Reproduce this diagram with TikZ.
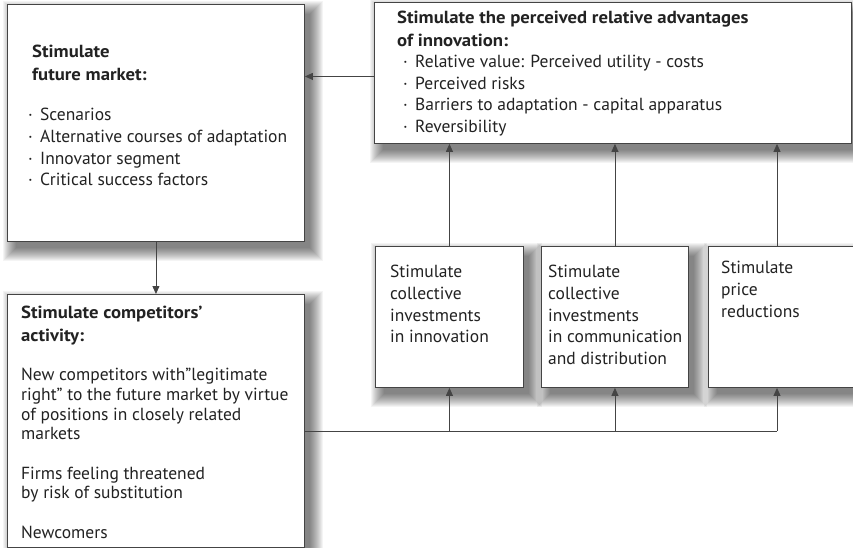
\documentclass[tikz,border=0pt]{standalone}
\usepackage{fontspec}
\setmainfont{PT Sans}[BoldFeatures={FakeStretch=1.07}]
\usetikzlibrary{arrows.meta,calc}
\definecolor{ink}{HTML}{222222}
\definecolor{edge}{HTML}{444444}
\newcommand{\bul}{\makebox[12pt][l]{·}}
\newcommand{\boxshadow}[1]{%
  \foreach \r in {-2,...,11}{%
    \fill[black, opacity=0.045] ([shift={(7-\r,8-\r)}]#1.north west) rectangle ([shift={(7+\r,8+\r)}]#1.south east);}}
\pgfdeclarelayer{back}
\pgfdeclarelayer{shade}
\pgfsetlayers{back,shade,main}
\begin{document}
\begin{tikzpicture}[x=1pt,y=-1pt,
  box/.style={draw=edge, line width=0.9pt, fill=white, anchor=north west, inner sep=0pt},
  txt/.style={anchor=north west, inner sep=0pt, align=left, text=ink, font=\fontsize{17.5}{21.7}\selectfont},
  ttl/.style={txt, font=\fontsize{17.5}{22.5}\selectfont\bfseries},
  arr/.style={draw=edge, line width=0.9pt, -{Triangle[length=8pt,width=7pt]}},
  ln/.style={draw=edge, line width=0.9pt}]
\clip (0,0) rectangle (853,548);
% boxes
\node[box, minimum width=297pt, minimum height=237pt] (A) at (7,4) {};
\node[box, minimum width=477pt, minimum height=141pt] (B) at (374,2) {};
\node[box, minimum width=297pt, minimum height=253pt] (C) at (7,294) {};
\node[box, minimum width=148pt, minimum height=141pt] (D) at (375,246) {};
\node[box, minimum width=147pt, minimum height=141pt] (E) at (541,246) {};
\node[box, minimum width=170pt, minimum height=141pt] (F) at (708,246) {};
\begin{pgfonlayer}{back}
\fill[white] (0,0) rectangle (853,548);
\end{pgfonlayer}
\begin{pgfonlayer}{shade}
\boxshadow{A}\boxshadow{B}\boxshadow{C}\boxshadow{D}\boxshadow{E}\boxshadow{F}
\end{pgfonlayer}
% texts
\node[ttl] (At) at (32,45) {Stimulate\\future market:};
\node[txt] (Al) at (28,108) {\bul Scenarios\\\bul Alternative courses of adaptation\\\bul Innovator segment\\\bul Critical success factors};
\node[ttl] (Bt) at (397,11) {Stimulate the perceived relative advantages\\of innovation:};
\node[txt] (Bl) at (403,55) {\bul Relative value: Perceived utility - costs\\\bul Perceived risks\\\bul Barriers to adaptation - capital apparatus\\\bul Reversibility};
\node[ttl] (Ct) at (21,306) {Stimulate competitors’\\activity:};
\node[txt, font=\fontsize{17.5}{19.7}\selectfont] (Cl) at (21,368) {New competitors with”legitimate\\right” to the future market by virtue\\of positions in closely related\\markets\\[19.7pt]Firms feeling threatened\\by risk of substitution\\[19.7pt]Newcomers};
\node[txt] (Dt) at (390,265) {Stimulate\\collective\\investments\\in innovation};
\node[txt] (Et) at (548,265) {Stimulate\\collective\\investments\\in communication\\and distribution};
\node[txt] (Ft) at (721,261) {Stimulate\\price\\reductions};
% connectors
\coordinate (bw) at ([yshift=-3.5pt]B.west);
\coordinate (fx) at ($(F.south west)+(69,0)$);
\coordinate (bus) at (fx |- 0,431);
\draw[arr] (bw) -- (A.east |- bw);
\draw[arr] (A.south) -- (C.north);
\draw[ln] (C.east |- bus) -- (bus);
\draw[arr] (D.south |- bus) -- (D.south);
\draw[arr] (E.south |- bus) -- (E.south);
\draw[arr] (bus) -- (fx);
\draw[arr] (D.north) -- (D.north |- B.south);
\draw[arr] (E.north) -- (E.north |- B.south);
\draw[arr] (fx |- F.north) -- (fx |- B.south);
\end{tikzpicture}
\end{document}
